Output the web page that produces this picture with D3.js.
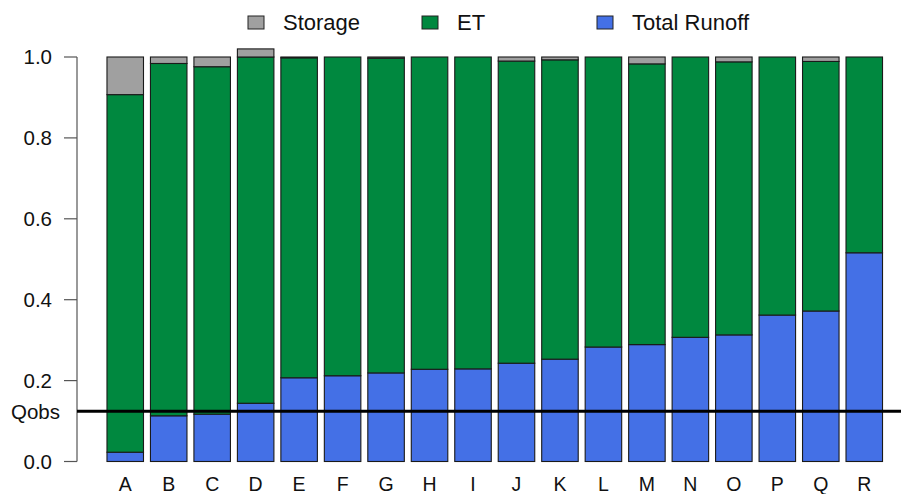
<!DOCTYPE html>
<html><head><meta charset="utf-8">
<script src="https://cdn.jsdelivr.net/npm/d3@7/dist/d3.min.js"></script>
<style>body{margin:0;background:#fff}svg{display:block}text{font-family:"Liberation Sans",Arial,Helvetica,sans-serif;fill:#111}</style>
</head><body><svg id="c" width="901" height="494"></svg>
<script>
const categories = ["A","B","C","D","E","F","G","H","I","J","K","L","M","N","O","P","Q","R"];
const runoff  = [0.023,0.113,0.117,0.144,0.207,0.212,0.219,0.228,0.229,0.243,0.253,0.283,0.289,0.307,0.313,0.362,0.372,0.516];
const et      = [0.884,0.871,0.859,0.856,0.791,0.788,0.778,0.772,0.771,0.747,0.740,0.717,0.694,0.693,0.675,0.638,0.617,0.484];
const storage = [0.093,0.016,0.024,0.020,0.002,0.000,0.003,0.000,0.000,0.010,0.007,0.000,0.017,0.000,0.012,0.000,0.011,0.000];
const qobs = 0.124;
const yTicks = [0.0,0.2,0.4,0.6,0.8,1.0];
const seriesNames = ["Storage","ET","Total Runoff"];
const colors = {"Total Runoff":"#4470e6","ET":"#00883f","Storage":"#a0a0a0"};

const svg = d3.select("#c");
const y = d3.scaleLinear().domain([0,1]).range([461.5,57]);
const x = d3.scaleBand().domain(categories).range([103.5,886]).paddingInner(0.16).paddingOuter(0.08);

const data = categories.map((c,i)=>({cat:c,"Total Runoff":runoff[i],"ET":et[i],"Storage":storage[i]}));
const stack = d3.stack().keys(["Total Runoff","ET","Storage"]);
const layers = stack(data);

svg.append("g").selectAll("g").data(layers).join("g")
  .attr("fill", d=>colors[d.key])
  .selectAll("rect").data(d=>d.filter(p=>p[1]-p[0]>0)).join("rect")
  .attr("x", d=>x(d.data.cat))
  .attr("width", x.bandwidth())
  .attr("y", d=>y(d[1]))
  .attr("height", d=>y(d[0])-y(d[1]))
  .attr("stroke","#1a1a1a").attr("stroke-width",1.1);

// y axis
const ax = svg.append("g").attr("transform","translate(77,0)");
ax.append("line").attr("x1",0).attr("x2",0).attr("y1",y(0)).attr("y2",y(1)).attr("stroke","#555").attr("stroke-width",1.2);
ax.selectAll("line.t").data(yTicks).join("line").attr("class","t")
  .attr("x1",-13).attr("x2",0).attr("y1",d=>y(d)).attr("y2",d=>y(d)).attr("stroke","#555").attr("stroke-width",1.2);
ax.selectAll("text").data(yTicks).join("text")
  .attr("x",-25).attr("y",d=>y(d)).attr("dy","0.36em").attr("text-anchor","end")
  .style("font-size","20.5px").text(d=>d.toFixed(1));

// category labels
svg.append("g").selectAll("text").data(categories).join("text")
  .attr("x",d=>x(d)+x.bandwidth()/2).attr("y",491).attr("text-anchor","middle")
  .style("font-size","19.5px").text(d=>d);

// Qobs line
svg.append("line").attr("x1",77).attr("x2",901).attr("y1",y(qobs)).attr("y2",y(qobs))
  .attr("stroke","#000").attr("stroke-width",3);
svg.append("text").attr("x",11).attr("y",y(qobs)).attr("dy","0.36em")
  .style("font-size","20.5px").text("Qobs");

// legend
const legX = [248,422,597];
const lg = svg.append("g");
seriesNames.forEach((n,i)=>{
  lg.append("rect").attr("x",legX[i]).attr("y",16).attr("width",16).attr("height",13)
    .attr("fill",colors[n]).attr("stroke","#222").attr("stroke-width",1);
  lg.append("text").attr("x",legX[i]+35).attr("y",30).style("font-size","22px").text(n);
});
</script></body></html>
